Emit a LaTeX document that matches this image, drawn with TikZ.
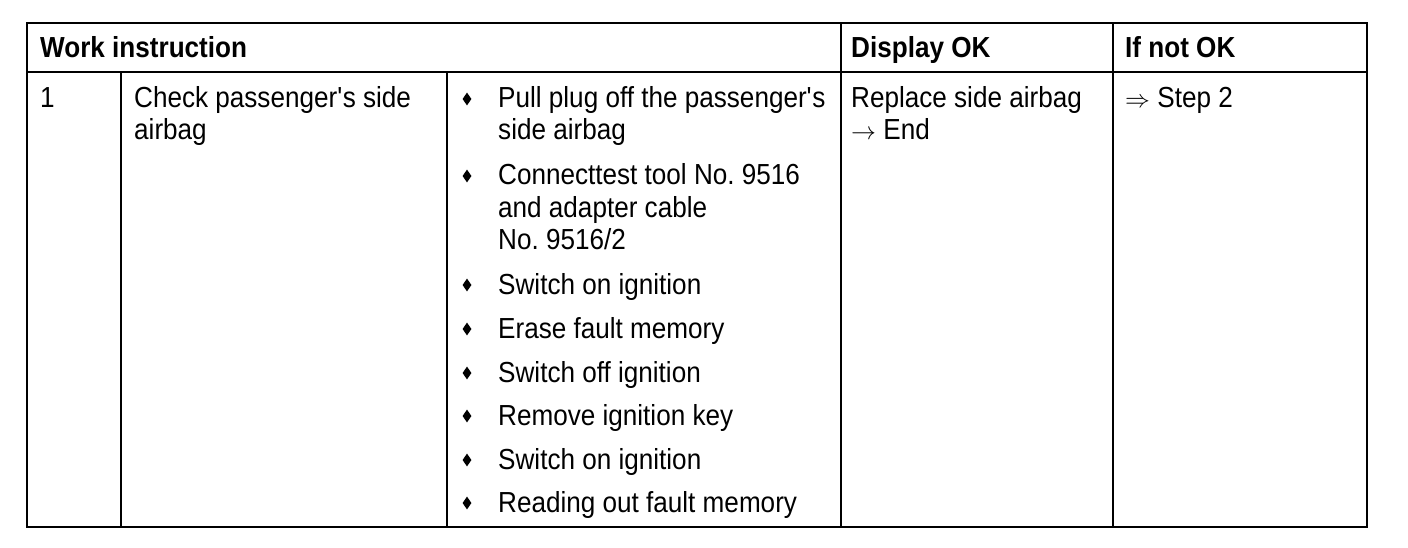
\documentclass[tikz,border=0pt]{standalone}
\usepackage{fontspec}
\setmainfont[FakeStretch=0.9]{Liberation Sans}
\usetikzlibrary{shapes.geometric}
\frenchspacing
\tikzset{
  grid/.style={line width=1.5pt, line cap=rect},
  txt/.style={anchor=base west, inner sep=0pt, font=\fontsize{29}{33}\selectfont},
  hdr/.style={anchor=base west, inner sep=0pt, font=\fontsize{29}{33}\selectfont\bfseries},
  bul/.style={diamond, fill=black, draw=none, inner sep=0pt, minimum width=9pt, minimum height=13pt}
}
\begin{document}
\begin{tikzpicture}[x=1pt,y=-1pt]
\useasboundingbox (0,0) rectangle (1408,548);
% grid
\coordinate (tl) at (27,23);
\coordinate (br) at (1367,527);
\draw[grid] (tl) rectangle (br);
\coordinate (hl) at (27,72);
\coordinate (hr) at (1367,72);
\draw[grid] (hl) -- (hr);
\coordinate (c1t) at (121,72);  \coordinate (c1b) at (121,527);
\coordinate (c2t) at (447,72);  \coordinate (c2b) at (447,527);
\coordinate (c3t) at (841,23);  \coordinate (c3b) at (841,527);
\coordinate (c4t) at (1113,23); \coordinate (c4b) at (1113,527);
\draw[grid] (c1t) -- (c1b);
\draw[grid] (c2t) -- (c2b);
\draw[grid] (c3t) -- (c3b);
\draw[grid] (c4t) -- (c4b);
% header
\node[hdr] (h1) at (40,58) {Work instruction};
\node[hdr] (h2) at (851,58) {Display OK};
\node[hdr] (h3) at (1125,58) {If not OK};
% row 1
\node[txt] (num) at (40,108) {1};
\node[txt] (ck1) at (134,108) {Check passenger\textquotesingle s side};
\node[txt] (ck2) at (134,140) {airbag};
% bullets
\foreach \y/\n in {108/1,185/2,294/3,338/4,382/5,425/6,469/7,512/8}
  \node[bul] (b\n) at (467,\y-9) {};
\node[txt] (t1a) at (498,108) {Pull plug off the passenger\textquotesingle s};
\node[txt] (t1b) at (498,140) {side airbag};
\node[txt] (t2a) at (498,185) {Connecttest tool No. 9516};
\node[txt] (t2b) at (498,218) {and adapter cable};
\node[txt] (t2c) at (498,250) {No. 9516/2};
\node[txt] (t3) at (498,294) {Switch on ignition};
\node[txt] (t4) at (498,338) {Erase fault memory};
\node[txt] (t5) at (498,382) {Switch off ignition};
\node[txt] (t6) at (498,425) {Remove ignition key};
\node[txt] (t7) at (498,469) {Switch on ignition};
\node[txt] (t8) at (498,512) {Reading out fault memory};
% display OK
\node[txt] (d1) at (851,108) {Replace side airbag};
\node[txt] (d2) at (851,140) {$\rightarrow$ End};
% if not OK
\node[txt] (n1) at (1125,108) {$\Rightarrow$ Step 2};
\end{tikzpicture}
\end{document}
